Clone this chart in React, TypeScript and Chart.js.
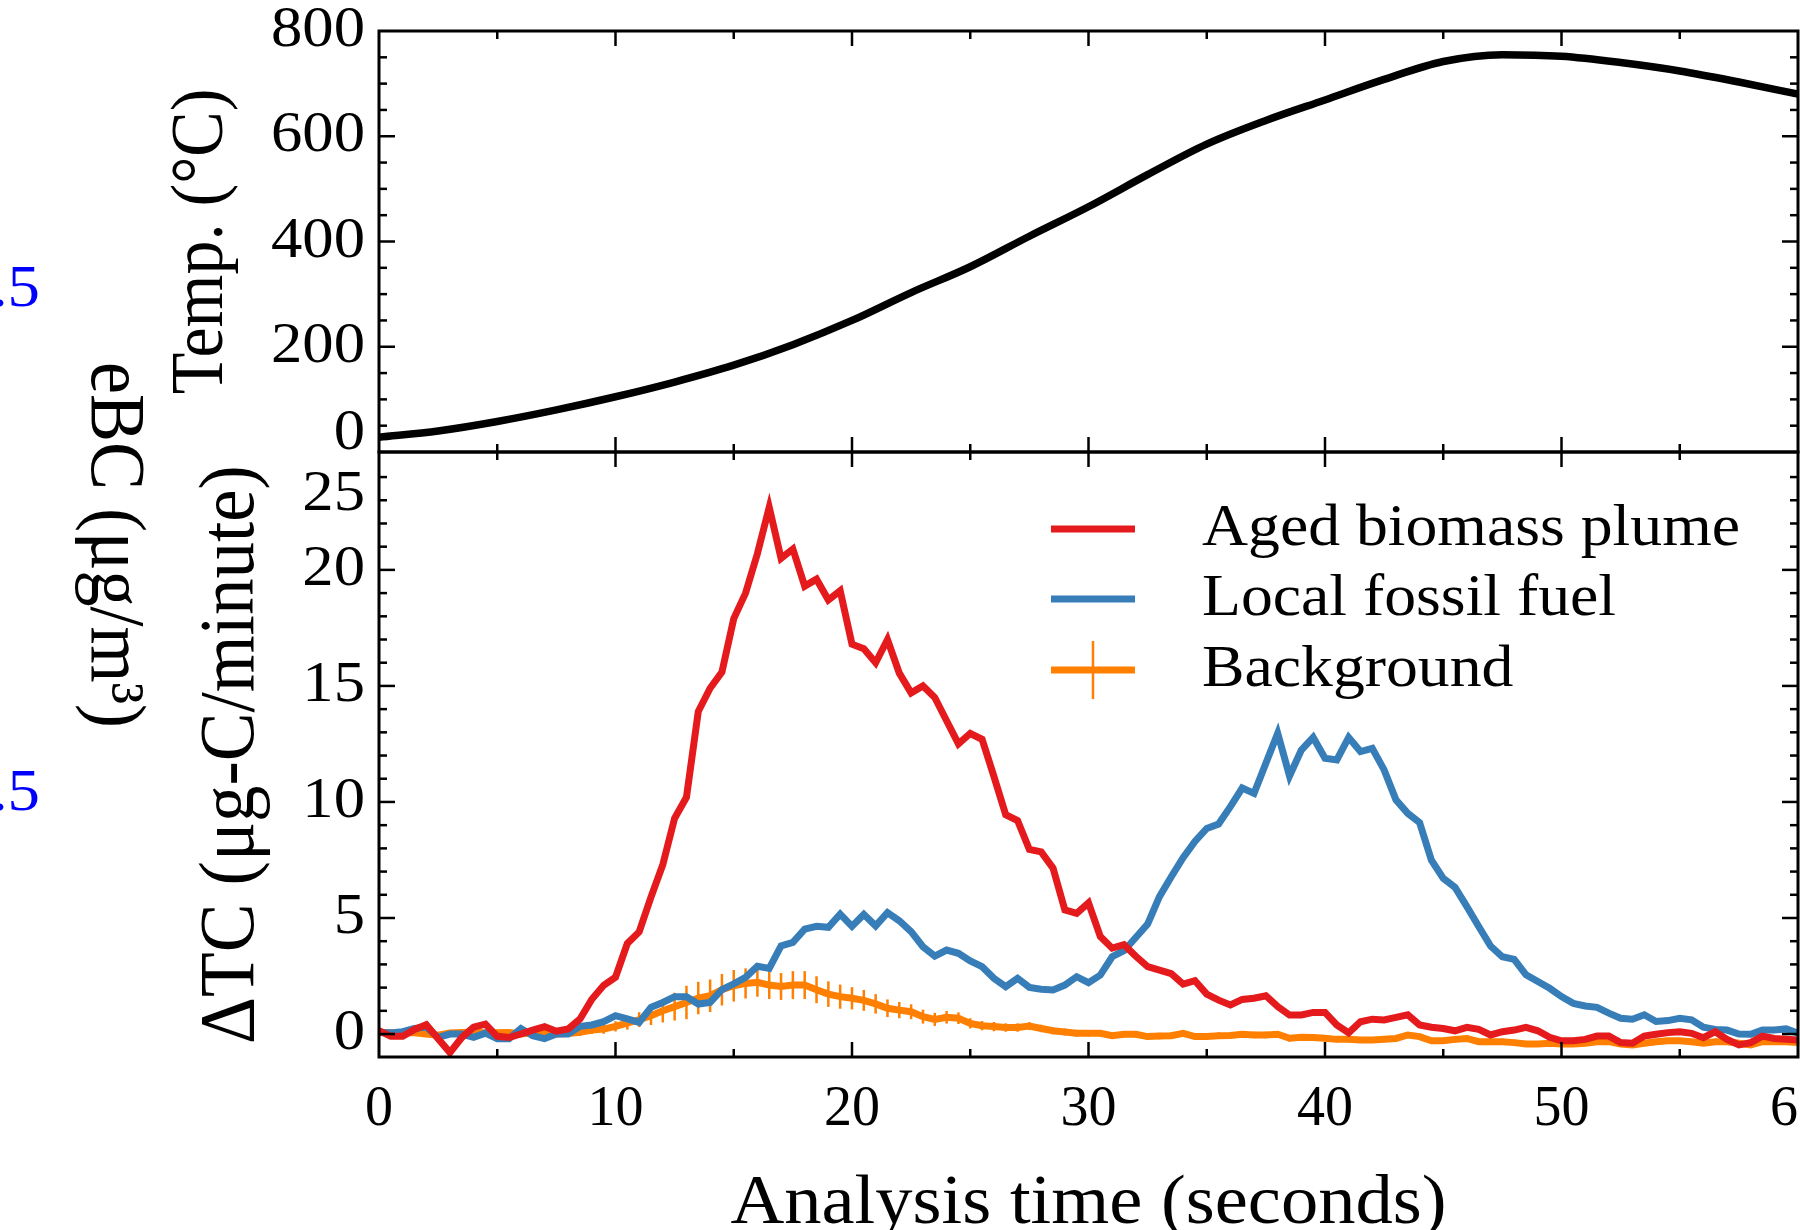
import React, { useEffect, useRef } from "react";
import { Chart, registerables } from "chart.js";

Chart.register(...registerables);

// ---------------- data ----------------
const timeTicks = [0, 10, 20, 30, 40, 50, 60];
const tempTicks = [0, 200, 400, 600, 800];
const tcTicks = [0, 5, 10, 15, 20, 25];

const legendLabels = ["Aged biomass plume", "Local fossil fuel", "Background"];
const xTitle = "Analysis time (seconds)";
const tempTitle = "Temp. (\u00B0C)";
const tcTitle = "\u0394TC (\u03BCg-C/minute)";
const sideTitle = "eBC (\u03BCg/m\u00B3)";
const sideTickLabels = ["1.5", "0.5"];

const tempTimes = [0, 2.5, 5, 7.5, 10, 12.5, 15, 17.5, 20, 22.5, 25, 27.5, 30, 32.5, 35, 37.5, 40, 42.5, 45, 47.5, 50, 52.5, 55, 57.5, 60];
const tempValues = [28, 40, 58, 80, 105, 133, 165, 204, 250, 303, 352, 410, 466, 527, 585, 630, 669, 708, 742, 755, 752, 740, 724, 703, 680];

const tcTimes = [
  0, 0.5, 1, 1.5, 2, 2.5, 3, 3.5, 4, 4.5,
  5, 5.5, 6, 6.5, 7, 7.5, 8, 8.5, 9, 9.5,
  10, 10.5, 11, 11.5, 12, 12.5, 13, 13.5, 14, 14.5,
  15, 15.5, 16, 16.5, 17, 17.5, 18, 18.5, 19, 19.5,
  20, 20.5, 21, 21.5, 22, 22.5, 23, 23.5, 24, 24.5,
  25, 25.5, 26, 26.5, 27, 27.5, 28, 28.5, 29, 29.5,
  30, 30.5, 31, 31.5, 32, 32.5, 33, 33.5, 34, 34.5,
  35, 35.5, 36, 36.5, 37, 37.5, 38, 38.5, 39, 39.5,
  40, 40.5, 41, 41.5, 42, 42.5, 43, 43.5, 44, 44.5,
  45, 45.5, 46, 46.5, 47, 47.5, 48, 48.5, 49, 49.5,
  50, 50.5, 51, 51.5, 52, 52.5, 53, 53.5, 54, 54.5,
  55, 55.5, 56, 56.5, 57, 57.5, 58, 58.5, 59, 59.5,
  60,
];

const agedBiomass = [
  0.15, -0.1, -0.1, 0.2, 0.4, -0.2, -0.8, -0.15, 0.3, 0.43,
  -0.1, -0.15, 0.0, 0.17, 0.32, 0.12, 0.22, 0.65, 1.5, 2.1,
  2.45, 3.9, 4.4, 5.9, 7.3, 9.3, 10.2, 13.9, 14.9, 15.6,
  17.9, 19.0, 20.7, 22.7, 20.5, 20.9, 19.3, 19.6, 18.7, 19.1,
  16.8, 16.6, 16.0, 17.0, 15.55, 14.7, 15.0, 14.5, 13.5, 12.5,
  12.95, 12.7, 11.1, 9.45, 9.2, 7.95, 7.85, 7.15, 5.35, 5.2,
  5.65, 4.2, 3.7, 3.85, 3.35, 2.9, 2.75, 2.6, 2.15, 2.3,
  1.72, 1.46, 1.25, 1.49, 1.54, 1.65, 1.18, 0.82, 0.82, 0.93,
  0.93, 0.39, 0.05, 0.53, 0.64, 0.61, 0.72, 0.83, 0.39, 0.29,
  0.24, 0.14, 0.29, 0.2, -0.04, 0.1, 0.17, 0.29, 0.14, -0.14,
  -0.29, -0.29, -0.23, -0.09, -0.09, -0.37, -0.4, -0.09, -0.01, 0.06,
  0.1, 0.03, -0.16, 0.1, -0.23, -0.47, -0.37, -0.09, -0.19, -0.23,
  -0.26,
];

const localFossil = [
  0.07, 0.05, 0.1, 0.24, 0.3, -0.14, 0.0, 0.0, -0.14, 0.04,
  -0.2, -0.2, 0.24, -0.07, -0.2, 0.0, 0.0, 0.33, 0.39, 0.53,
  0.79, 0.65, 0.5, 1.15, 1.36, 1.61, 1.61, 1.29, 1.36, 1.91,
  2.16, 2.44, 2.92, 2.83, 3.8, 3.95, 4.52, 4.64, 4.6, 5.17,
  4.64, 5.15, 4.66, 5.23, 4.88, 4.41, 3.76, 3.36, 3.62, 3.48,
  3.15, 2.9, 2.4, 2.04, 2.4, 2.01, 1.93, 1.9, 2.11, 2.47,
  2.21, 2.54, 3.33, 3.59, 4.16, 4.74, 5.92, 6.78, 7.6, 8.3,
  8.86, 9.05, 9.8, 10.6, 10.37, 11.67, 12.96, 11.12, 12.24, 12.78,
  11.88, 11.81, 12.78, 12.17, 12.31, 11.38, 10.09, 9.51, 9.11, 7.49,
  6.71, 6.32, 5.49, 4.63, 3.79, 3.33, 3.22, 2.55, 2.26, 1.97,
  1.61, 1.32, 1.21, 1.15, 0.9, 0.68, 0.64, 0.83, 0.54, 0.58,
  0.68, 0.61, 0.29, 0.2, 0.17, 0.0, -0.01, 0.17, 0.17, 0.22,
  0.03,
];

const background = [
  0.07, 0.05, 0.05, 0.05, 0.0, -0.05, 0.05, 0.07, 0.07, 0.05,
  0.05, 0.07, 0.0, 0.05, 0.05, 0.0, 0.02, 0.07, 0.17, 0.21,
  0.33, 0.47, 0.62, 0.79, 1.0, 1.18, 1.36, 1.55, 1.65, 1.91,
  2.08, 2.18, 2.23, 2.11, 2.05, 2.11, 2.11, 1.91, 1.72, 1.61,
  1.54, 1.45, 1.3, 1.11, 1.03, 0.96, 0.75, 0.63, 0.72, 0.68,
  0.46, 0.36, 0.32, 0.28, 0.28, 0.34, 0.24, 0.14, 0.09, 0.03,
  0.03, 0.03, -0.07, -0.01, -0.01, -0.11, -0.09, -0.07, 0.03, -0.11,
  -0.11, -0.07, -0.06, -0.01, -0.04, -0.04, -0.01, -0.18, -0.14, -0.15,
  -0.18, -0.23, -0.23, -0.26, -0.26, -0.23, -0.19, -0.04, -0.11, -0.29,
  -0.29, -0.23, -0.19, -0.33, -0.33, -0.33, -0.37, -0.43, -0.43, -0.4,
  -0.43, -0.43, -0.4, -0.33, -0.33, -0.43, -0.47, -0.4, -0.33, -0.29,
  -0.29, -0.33, -0.4, -0.33, -0.33, -0.4, -0.47, -0.33, -0.33, -0.33,
  -0.37,
];

const backgroundErr = [
  0.08, 0.08, 0.08, 0.08, 0.08, 0.08, 0.08, 0.08, 0.08, 0.08,
  0.08, 0.08, 0.08, 0.08, 0.1, 0.1, 0.12, 0.15, 0.17, 0.2,
  0.22, 0.28, 0.32, 0.4, 0.5, 0.6, 0.72, 0.7, 0.7, 0.68,
  0.68, 0.65, 0.62, 0.6, 0.58, 0.6, 0.6, 0.58, 0.55, 0.52,
  0.48, 0.45, 0.42, 0.38, 0.35, 0.32, 0.3, 0.28, 0.27, 0.25,
  0.22, 0.2, 0.2, 0.18, 0.18, 0.17, 0.16, 0.15, 0.15, 0.15,
  0.14, 0.14, 0.14, 0.14, 0.14, 0.14, 0.14, 0.14, 0.14, 0.14,
  0.14, 0.14, 0.14, 0.14, 0.14, 0.14, 0.14, 0.14, 0.14, 0.14,
  0.13, 0.13, 0.13, 0.13, 0.13, 0.13, 0.13, 0.13, 0.13, 0.13,
  0.13, 0.13, 0.13, 0.13, 0.13, 0.13, 0.13, 0.13, 0.13, 0.13,
  0.12, 0.12, 0.12, 0.12, 0.12, 0.12, 0.12, 0.12, 0.12, 0.12,
  0.12, 0.12, 0.12, 0.12, 0.12, 0.12, 0.12, 0.12, 0.12, 0.12,
  0.12,
];

// ---------------- styles ----------------
const FONT = '"Liberation Serif", "Times New Roman", Times, serif';
const STRETCH = 1.08;
const RED = "#e41a1c";
const BLUE = "#377eb8";
const ORANGE = "#ff7f00";
const SIDE_BLUE = "#0000ff";

type Ctx = CanvasRenderingContext2D;

function txt(
  ctx: Ctx,
  s: string,
  x: number,
  y: number,
  size: number,
  align: CanvasTextAlign,
  baseline: CanvasTextBaseline,
  rot = 0,
  color = "#000"
) {
  ctx.save();
  ctx.translate(x, y);
  ctx.scale(STRETCH, 1);
  if (rot) ctx.rotate(rot);
  ctx.font = `${size}px ${FONT}`;
  ctx.textAlign = align;
  ctx.textBaseline = baseline;
  ctx.fillStyle = color;
  ctx.fillText(s, 0, 0);
  ctx.restore();
}

function seg(ctx: Ctx, x1: number, y1: number, x2: number, y2: number) {
  ctx.beginPath();
  ctx.moveTo(x1, y1);
  ctx.lineTo(x2, y2);
  ctx.stroke();
}

const near = (a: number, b: number) => Math.abs(a - b) < 1e-6;

export default function App() {
  const ref = useRef<HTMLCanvasElement | null>(null);

  useEffect(() => {
    const canvas = ref.current;
    if (!canvas) return;

    const decor = {
      id: "decor",
      beforeDatasetsDraw(chart: any) {
        const ctx: Ctx = chart.ctx;
        const xs = chart.scales.x;
        const yc = chart.scales.yC;
        ctx.save();
        ctx.strokeStyle = ORANGE;
        ctx.lineWidth = 2.5;
        for (let i = 0; i < tcTimes.length; i++) {
          const px = xs.getPixelForValue(tcTimes[i]);
          const y1 = yc.getPixelForValue(background[i] - backgroundErr[i]);
          const y2 = yc.getPixelForValue(background[i] + backgroundErr[i]);
          seg(ctx, px, y1, px, y2);
        }
        ctx.restore();
      },
      afterDatasetsDraw(chart: any) {
        const ctx: Ctx = chart.ctx;
        const xs = chart.scales.x;
        const yt = chart.scales.yT;
        const yc = chart.scales.yC;
        const L = chart.chartArea.left;
        const R = chart.chartArea.right;

        ctx.save();
        ctx.strokeStyle = "#000";
        ctx.lineCap = "butt";

        // ticks
        ctx.lineWidth = 2.5;
        const panels = [
          { s: yt, major: 200, minor: 50 },
          { s: yc, major: 5, minor: 1 },
        ];
        for (const p of panels) {
          const top = p.s.top;
          const bottom = p.s.bottom;
          for (let v = 5; v < 60; v += 5) {
            const px = xs.getPixelForValue(v);
            const len = v % 10 === 0 ? 15 : 8;
            seg(ctx, px, top, px, top + len);
            seg(ctx, px, bottom, px, bottom - len);
          }
          const start = Math.ceil(p.s.min / p.minor) * p.minor;
          for (let v = start; v <= p.s.max + 1e-9; v += p.minor) {
            const py = p.s.getPixelForValue(v);
            if (py < top + 2 || py > bottom - 2) continue;
            const isMajor = near(v / p.major, Math.round(v / p.major));
            const len = isMajor ? 16 : 8;
            seg(ctx, L, py, L + len, py);
            seg(ctx, R, py, R - len, py);
          }
        }

        // frames
        ctx.lineWidth = 3;
        ctx.strokeRect(L, yt.top, R - L, yt.bottom - yt.top);
        ctx.strokeRect(L, yc.top, R - L, yc.bottom - yc.top);
        ctx.restore();

        // y tick labels
        const labelX = L - 14;
        for (const v of tempTicks) {
          let py = yt.getPixelForValue(v);
          if (v === 0) py -= 18;
          txt(ctx, String(v), labelX, py, 58, "right", "middle");
        }
        for (const v of tcTicks) {
          let py = yc.getPixelForValue(v);
          if (v === 25) py += 41;
          txt(ctx, String(v), labelX, py, 58, "right", "middle");
        }

        // axis titles
        txt(ctx, tempTitle, 203, (yt.top + yt.bottom) / 2, 68, "center", "middle", -Math.PI / 2);
        txt(ctx, tcTitle, 232, (yc.top + yc.bottom) / 2, 73, "center", "middle", -Math.PI / 2);
        txt(ctx, xTitle, (L + R) / 2, 1223, 69, "center", "alphabetic");

        // partial neighbouring panel (cropped at left edge)
        txt(ctx, sideTitle, 112, 545, 72, "center", "middle", Math.PI / 2);
        txt(ctx, sideTickLabels[0], 40, 290, 60, "right", "middle", 0, SIDE_BLUE);
        txt(ctx, sideTickLabels[1], 40, 794, 60, "right", "middle", 0, SIDE_BLUE);

        // legend
        const legendColors = [RED, BLUE, ORANGE];
        const legendY = [529, 599, 670];
        ctx.save();
        for (let i = 0; i < 3; i++) {
          ctx.strokeStyle = legendColors[i];
          ctx.lineWidth = 7;
          seg(ctx, 1051, legendY[i], 1135, legendY[i]);
          if (i === 2) {
            ctx.lineWidth = 2.5;
            seg(ctx, 1093, legendY[i] - 29, 1093, legendY[i] + 29);
          }
        }
        ctx.restore();
        for (let i = 0; i < 3; i++) {
          txt(ctx, legendLabels[i], 1202, legendY[i], 59, "left", "middle");
        }
      },
    };

    const pts = (xs: number[], ys: number[]) => xs.map((x, i) => ({ x, y: ys[i] }));

    const chart = new Chart(canvas, {
      type: "line",
      data: {
        datasets: [
          {
            label: "Temperature",
            data: pts(tempTimes, tempValues),
            yAxisID: "yT",
            borderColor: "#000",
            borderWidth: 7.5,
            pointRadius: 0,
            cubicInterpolationMode: "monotone",
          },
          {
            label: legendLabels[0],
            data: pts(tcTimes, agedBiomass),
            yAxisID: "yC",
            borderColor: RED,
            borderWidth: 7,
            pointRadius: 0,
            borderJoinStyle: "miter",
          },
          {
            label: legendLabels[1],
            data: pts(tcTimes, localFossil),
            yAxisID: "yC",
            borderColor: BLUE,
            borderWidth: 7,
            pointRadius: 0,
            borderJoinStyle: "miter",
          },
          {
            label: legendLabels[2],
            data: pts(tcTimes, background),
            yAxisID: "yC",
            borderColor: ORANGE,
            borderWidth: 7,
            pointRadius: 0,
          },
        ] as any,
      },
      options: {
        responsive: false,
        animation: false,
        devicePixelRatio: 1,
        events: [],
        layout: { padding: { left: 0, top: 31, right: 2, bottom: 0 }, autoPadding: false },
        plugins: { legend: { display: false }, tooltip: { enabled: false }, title: { display: false } },
        scales: {
          x: {
            type: "linear",
            position: "bottom",
            min: 0,
            max: 60,
            afterBuildTicks: (s: any) => {
              s.ticks = timeTicks.map((v) => ({ value: v }));
            },
            afterFit: (s: any) => {
              s.height = 173;
              s.paddingLeft = 0;
              s.paddingRight = 0;
            },
            ticks: {
              autoSkip: false,
              maxRotation: 0,
              padding: 20,
              color: "#000",
              font: { family: FONT, size: 56 },
            },
            grid: { display: false, drawTicks: false },
            border: { display: false },
          },
          yT: {
            type: "linear",
            position: "left",
            stack: "panels",
            stackWeight: 421,
            weight: 2,
            min: 0,
            max: 800,
            afterFit: (s: any) => {
              s.width = 379;
              s.paddingTop = 0;
              s.paddingBottom = 0;
            },
            ticks: { display: false },
            grid: { display: false, drawTicks: false },
            border: { display: false },
          },
          yC: {
            type: "linear",
            position: "left",
            stack: "panels",
            stackWeight: 605,
            weight: 1,
            min: -0.99,
            max: 25.08,
            afterFit: (s: any) => {
              s.width = 379;
              s.paddingTop = 0;
              s.paddingBottom = 0;
            },
            ticks: { display: false },
            grid: { display: false, drawTicks: false },
            border: { display: false },
          },
        } as any,
      },
      plugins: [decor],
    });

    return () => chart.destroy();
  }, []);

  return (
    <div style={{ position: "absolute", left: 0, top: 0, width: 1800, height: 1230, background: "#fff", overflow: "hidden" }}>
      <canvas ref={ref} width={1800} height={1230} style={{ display: "block", width: 1800, height: 1230 }} />
    </div>
  );
}
